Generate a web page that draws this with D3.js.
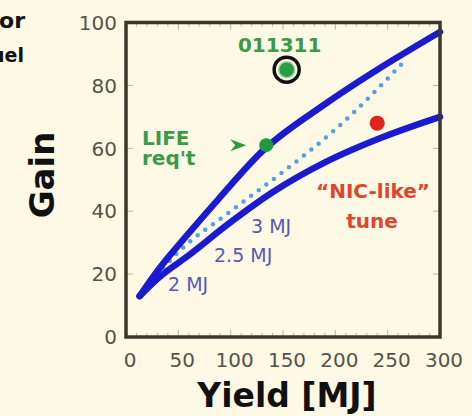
<!DOCTYPE html>
<html>
<head>
<meta charset="utf-8">
<script src="https://cdn.jsdelivr.net/npm/d3@7"></script>
<style>
  html, body { margin: 0; padding: 0; background: #fdf9e4; }
  svg { display: block; font-family: "DejaVu Sans", sans-serif; }
</style>
</head>
<body>
<svg id="svg"></svg>
<script>
var width = 472;
var height = 416;

// values (Yield in MJ, Gain)
const yieldTicks = [0, 50, 100, 150, 200, 250, 300];
const gainTicks = [0, 20, 40, 60, 80, 100];
const upperCurve = [[13, 13], [30, 21], [60, 33], [90, 44.5], [130, 59], [190, 74], [245, 86], [300, 97]];
const lowerCurve = [[13, 13], [30, 18.5], [60, 26], [100, 36.5], [140, 46], [190, 55.5], [245, 63.5], [300, 70]];
const dottedCurve = [[18, 15], [50, 27], [100, 40], [150, 52.5], [200, 66], [264, 87]];
const lifePoint = [134, 61];
const shotPoint = [153.5, 85];
const nicPoint = [240, 68];

var svg = d3.select("#svg")
    .attr("width", width)
    .attr("height", height);

var x = d3.scaleLinear().domain([0, 300]).range([126, 440]);
var y = d3.scaleLinear().domain([0, 100]).range([337, 22.5]);

// cut-off title text at the top left
svg.append("text").attr("x", 25).attr("y", 28)
    .attr("text-anchor", "end").attr("font-size", 22).attr("font-weight", "bold")
    .attr("fill", "#111").text("for");
svg.append("text").attr("x", 24).attr("y", 62)
    .attr("text-anchor", "end").attr("font-size", 19).attr("font-weight", "bold")
    .attr("fill", "#111").text("fuel");

// ticks
var tickCol = "#b9b6a4";
var minor = d3.range(0, 301, 10);
svg.append("g").selectAll("line").data(minor).join("line")
    .attr("x1", d => x(d)).attr("x2", d => x(d))
    .attr("y1", y(0)).attr("y2", d => y(0) - (d % 50 == 0 ? 7 : 4))
    .attr("stroke", tickCol);
svg.append("g").selectAll("line").data(minor).join("line")
    .attr("x1", d => x(d)).attr("x2", d => x(d))
    .attr("y1", y(100)).attr("y2", d => y(100) + (d % 50 == 0 ? 7 : 4))
    .attr("stroke", tickCol);
svg.append("g").selectAll("line").data(gainTicks).join("line")
    .attr("x1", x(0)).attr("x2", x(0) + 7)
    .attr("y1", d => y(d)).attr("y2", d => y(d))
    .attr("stroke", tickCol);
svg.append("g").selectAll("line").data(gainTicks).join("line")
    .attr("x1", x(300)).attr("x2", x(300) - 7)
    .attr("y1", d => y(d)).attr("y2", d => y(d))
    .attr("stroke", tickCol);

// tick labels
svg.append("g").selectAll("text").data(gainTicks).join("text")
    .attr("x", 117).attr("y", d => y(d)).attr("dy", "0.36em")
    .attr("text-anchor", "end").attr("font-size", 20).attr("fill", "#55544a")
    .text(d => d);
svg.append("g").selectAll("text").data(yieldTicks).join("text")
    .attr("x", d => x(d) + 4).attr("y", 367)
    .attr("text-anchor", "middle").attr("font-size", 20).attr("fill", "#55544a")
    .text(d => d);

// axis titles
svg.append("text").attr("x", 287).attr("y", 407)
    .attr("text-anchor", "middle").attr("font-size", 33).attr("font-weight", "bold")
    .attr("fill", "#111").text("Yield [MJ]");
svg.append("text").attr("transform", "translate(54,175) rotate(-90)")
    .attr("text-anchor", "middle").attr("font-size", 34).attr("font-weight", "bold")
    .attr("fill", "#111").text("Gain");

// curves
var line = d3.line().x(d => x(d[0])).y(d => y(d[1])).curve(d3.curveMonotoneX);

svg.append("path").attr("d", line(dottedCurve))
    .attr("fill", "none").attr("stroke", "#55a0e6").attr("stroke-width", 4.5)
    .attr("stroke-linecap", "round").attr("stroke-dasharray", "0 9.5");
svg.append("path").attr("d", line(lowerCurve))
    .attr("fill", "none").attr("stroke", "#1a1ad0").attr("stroke-width", 6.5)
    .attr("stroke-linecap", "round");
svg.append("path").attr("d", line(upperCurve))
    .attr("fill", "none").attr("stroke", "#1a1ad0").attr("stroke-width", 6.5)
    .attr("stroke-linecap", "round");

// frame
svg.append("rect")
    .attr("x", x(0)).attr("y", y(100))
    .attr("width", x(300) - x(0)).attr("height", y(0) - y(100))
    .attr("fill", "none").attr("stroke", "#3a382a").attr("stroke-width", 3.5);

// points
svg.append("circle").attr("cx", x(nicPoint[0])).attr("cy", y(nicPoint[1])).attr("r", 7.5)
    .attr("fill", "#e0241c");
svg.append("circle").attr("cx", x(lifePoint[0])).attr("cy", y(lifePoint[1])).attr("r", 7)
    .attr("fill", "#1f9a3c");
svg.append("circle").attr("cx", x(shotPoint[0])).attr("cy", y(shotPoint[1])).attr("r", 8)
    .attr("fill", "#2a9c46").attr("stroke", "#9cd4a6").attr("stroke-width", 1.5);
svg.append("circle").attr("cx", x(shotPoint[0])).attr("cy", y(shotPoint[1])).attr("r", 12.5)
    .attr("fill", "none").attr("stroke", "#111").attr("stroke-width", 3.5);

// arrow pointing at LIFE requirement
svg.append("path")
    .attr("transform", "translate(" + (x(lifePoint[0]) - 36) + "," + y(lifePoint[1]) + ")")
    .attr("d", "M0,-6L16,0L0,6L5,0Z")
    .attr("fill", "#2a9a40");

// annotations
var green = "#3a9a48";
svg.append("text").attr("x", x(shotPoint[0]) - 7).attr("y", 52)
    .attr("text-anchor", "middle").attr("font-size", 20).attr("font-weight", "bold")
    .attr("fill", green).text("011311");
svg.append("text").attr("x", 142).attr("y", 145)
    .attr("font-size", 20).attr("font-weight", "bold").attr("fill", green).text("LIFE");
svg.append("text").attr("x", 142).attr("y", 165)
    .attr("font-size", 20).attr("font-weight", "bold").attr("fill", green).text("req't");

var red = "#e0452e";
svg.append("text").attr("x", 373).attr("y", 198)
    .attr("text-anchor", "middle").attr("font-size", 20).attr("font-weight", "bold")
    .attr("fill", red).text("\u201cNIC-like\u201d");
svg.append("text").attr("x", 372).attr("y", 228)
    .attr("text-anchor", "middle").attr("font-size", 20).attr("font-weight", "bold")
    .attr("fill", red).text("tune");

var lav = "#5858b4";
svg.append("text").attr("x", 168).attr("y", 291)
    .attr("font-size", 19).attr("fill", lav).text("2 MJ");
svg.append("text").attr("x", 214).attr("y", 262)
    .attr("font-size", 19).attr("fill", lav).text("2.5 MJ");
svg.append("text").attr("x", 251).attr("y", 233)
    .attr("font-size", 19).attr("fill", lav).text("3 MJ");
</script>
</body>
</html>
